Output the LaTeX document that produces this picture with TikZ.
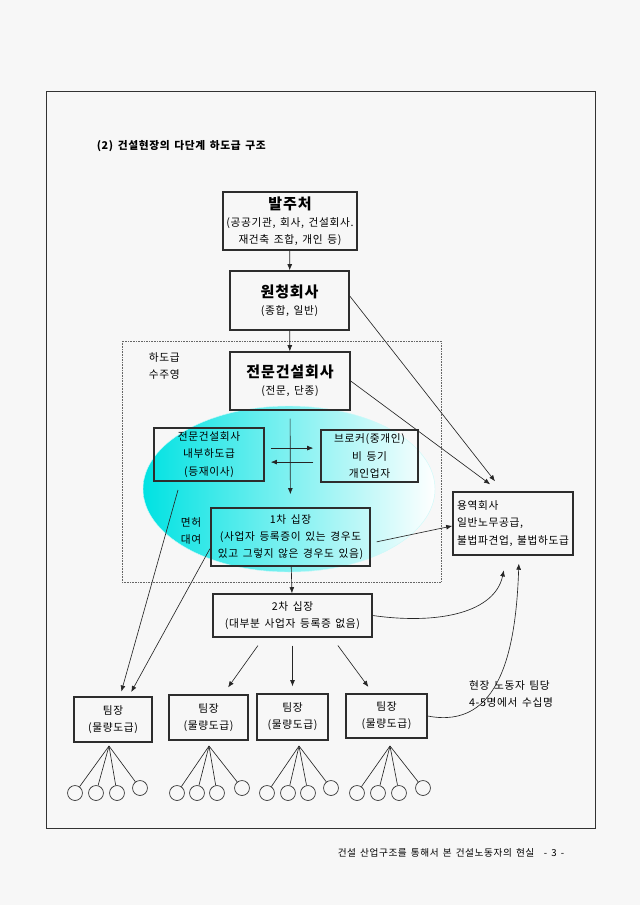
\documentclass[tikz,border=0pt]{standalone}
\usepackage{fontspec}
\setmainfont[LetterSpace=6,WordSpace=1.5]{Noto Sans CJK KR}
\usetikzlibrary{arrows.meta,positioning}
\definecolor{pagegray}{RGB}{247,247,247}
\definecolor{boxline}{RGB}{45,45,45}
\definecolor{ellcyan}{RGB}{0,226,226}
\newcommand\pxl{0.328125mm}
\newcommand\boxtitle[1]{{\fontsize{14}{20}\selectfont\bfseries #1}}

\begin{document}
\begin{tikzpicture}[x=0.328125mm,y=-0.328125mm,
  every node/.style={font=\fontsize{10}{16}\selectfont},
  box/.style 2 args={draw=boxline,line width=1.3pt,align=center,inner sep=1pt,
    minimum width=#1*\pxl,minimum height=#2*\pxl},
  arr/.style={-{Latex[length=2mm,width=1.6mm]},black!85,line width=0.6pt},
  worker/.style={draw=black!85,circle,minimum size=4.9mm,inner sep=0pt,line width=0.6pt}]
  \useasboundingbox[fill=pagegray] (0,0) rectangle (640,905);
  % page frame and heading
  \draw[black!80,line width=0.7pt] (46,91) rectangle (595,828);
  \node[anchor=west,font=\fontsize{10}{12}\bfseries\selectfont] (title) at (93,146) {(2) 건설현장의 다단계 하도급 구조};
  % subcontract zone
  \draw[densely dotted,black!60,line width=0.5pt] (122,341) rectangle (441,582);
  \shade[left color=ellcyan,middle color=ellcyan!70!white,right color=white,draw=ellcyan!20] (289,489) ellipse [x radius=146,y radius=83];
  \node[align=left,anchor=west] (zone) at (145,366) {하도급\\수주영};
  \node[align=center] (lend) at (191,531) {면허\\대여};

  % main chain
  \node[box={134}{58}] (bal) at (290,221) {\boxtitle{발주처}\\(공공기관, 회사, 건설회사.\\재건축 조합, 개인 등)};
  \node[box={119}{59}] (won) at (289.5,300.5) {\boxtitle{원청회사}\\(종합, 일반)};
  \node[box={120}{58}] (jeon) at (290,381) {\boxtitle{전문건설회사}\\(전문, 단종)};
  \node[box={110}{53}] (nae) at (209,454.5) {전문건설회사\\내부하도급\\(등재이사)};
  \node[box={97}{52}] (brk) at (369.5,456) {브로커(중개인)\\비 등기\\개인업자};
  \node[box={159}{58}] (first) at (290.5,537) {1차 십장\\(사업자 등록증이 있는 경우도\\있고 그렇지 않은 경우도 있음)};
  \node[box={120}{63},align=left] (yong) at (513,523.5) {용역회사\\일반노무공급,\\불법파견업, 불법하도급};
  \node[box={159}{43}] (second) at (292.5,615.5) {2차 십장\\(대부분 사업자 등록증 없음)};

  % team leaders
  \node[box={78}{45}] (team1) at (113,719.5) {팀장\\(물량도급)};
  \node[box={79}{45}] (team2) at (208.5,717.5) {팀장\\(물량도급)};
  \node[box={71}{46}] (team3) at (292.5,717) {팀장\\(물량도급)};
  \node[box={81}{44}] (team4) at (386.5,716) {팀장\\(물량도급)};
  \node[align=left] (crowd) at (511,694) {현장 노동자 팀당\\4-5명에서 수십명};
  \node[anchor=east,font=\fontsize{9}{11}\selectfont] (foot) at (568,853) {건설 산업구조를 통해서 본 건설노동자의 현실\quad - 3 -};

  % arrows
  \draw[arr] (bal) -- (won);
  \draw[arr] (won) -- (jeon);
  \draw[arr,shorten <=2.6mm,shorten >=4.3mm] (jeon) -- (first);
  \draw[arr,shorten <=2mm,shorten >=2.3mm] ([yshift=2.1mm]nae.east) -- ([yshift=2.1mm]nae.east -| brk.west);
  \draw[arr,shorten <=2.3mm,shorten >=2mm] ([yshift=-2mm]brk.west) -- ([yshift=-2mm]brk.west -| nae.east);
  \draw[arr] ([yshift=1.5mm]won.east) -- ([xshift=-5.9mm,yshift=3.3mm]yong.north);
  \draw[arr] (jeon.east) -- ([xshift=-7.5mm,yshift=2.3mm]yong.north);
  \draw[arr,shorten <=2mm] ([yshift=-2mm]first.east) -- ([yshift=-0.8mm]yong.west);
  \draw[arr] (first) -- (second);
  \coordinate (naeout) at (178,490);
  \draw[arr,shorten >=1.6mm] (naeout) -- ([xshift=2.3mm]team1.north);
  \draw[arr,shorten <=0.3mm,shorten >=1.6mm] ([yshift=-3.6mm]first.west) -- ([xshift=5.2mm]team1.north);
  \draw[arr,shorten <=3.2mm,shorten >=2.8mm] ([xshift=-9.5mm]second.south) -- ([xshift=4.8mm]team2.north);
  \draw[arr,shorten <=2.6mm,shorten >=2.3mm] (second.south) -- (team3.north);
  \draw[arr,shorten <=3.2mm,shorten >=2.6mm] ([xshift=13mm]second.south) -- ([xshift=-4.4mm]team4.north);
  \draw[arr,shorten >=4.9mm] (second.east) .. controls (440,625) and (495,612) .. ([xshift=-2mm]yong.south);
  \draw[arr,shorten >=2.6mm] (team4.east) .. controls (500,730) and (516,650) .. ([xshift=2mm]yong.south);

  % workers under each team leader
  \foreach \t/\ax/\xs in {1/109/{75,96,117,140},2/209/{177,197,217,242},3/299/{267,288,308,331},4/390/{357,378,399,423}}{
    \coordinate (apex\t) at (\ax,746);
    \foreach \x [count=\i] in \xs {
      \pgfmathsetmacro\wy{\i==4 ? 788 : 793}
      \node[worker] (w\t\i) at (\x,\wy) {};
      \draw[black!85,line width=0.6pt] (apex\t) -- (w\t\i);
    }
  }
\end{tikzpicture}
\end{document}
